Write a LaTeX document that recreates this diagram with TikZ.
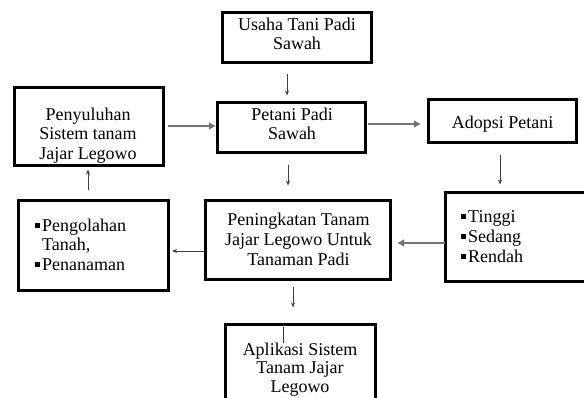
\documentclass[tikz,border=0pt]{standalone}
\usepackage{fontspec}
\setmainfont{Liberation Serif}
\usetikzlibrary{arrows.meta,calc}
\newcommand{\bul}{\raisebox{3.5pt}{\rule{5pt}{5pt}}\hspace{2pt}}
\newcommand{\fst}{\rule{0pt}{14pt}}
\begin{document}
\begin{tikzpicture}[x=1pt,y=-1pt,
  box/.style={draw=black,line width=3pt,inner sep=0pt,outer sep=0pt},
  thin/.style={draw=black!75,line width=0.9pt,-{Stealth[length=5pt,width=4pt]}},
  thick/.style={draw=black!55,line width=1.8pt,-{Latex[length=7pt,width=8pt]},color=black!55},
  ctxt/.style={inner sep=0pt,anchor=north,align=center,font=\fontsize{18}{19.5}\selectfont},
  ltxt/.style={inner sep=0pt,anchor=north west,align=left,font=\fontsize{18}{20}\selectfont}]
\useasboundingbox (0,0) rectangle (584,398);
\clip (0,0) rectangle (584,398);
% boxes
\node[box,minimum width=149pt,minimum height=50pt] (usaha) at (297,37.5) {};
\node[box,minimum width=148pt,minimum height=50pt] (petani) at (291.5,127.5) {};
\node[box,minimum width=149pt,minimum height=78pt] (peny) at (89,126.5) {};
\node[box,minimum width=148pt,minimum height=43pt] (adopsi) at (502.5,121) {};
\node[box,minimum width=160pt,minimum height=89pt] (tinggi) at (525.5,237) {};
\node[box,minimum width=185pt,minimum height=79pt] (pening) at (298,240) {};
\node[box,minimum width=150pt,minimum height=90pt] (pengol) at (93.5,245.5) {};
\node[box,minimum width=150pt,minimum height=100pt] (aplik) at (300.5,374.5) {};
% texts
\node[ctxt] (tusaha) at (297,16) {\fst Usaha Tani Padi\\Sawah};
\node[ctxt] (tpetani) at (292,106) {\fst Petani Padi\\Sawah};
\node[ctxt] (tpeny) at (88,106) {\fst Penyuluhan\\Sistem tanam\\Jajar Legowo};
\node[ctxt] (tadopsi) at (502.5,114) {\fst Adopsi Petani};
\node[ctxt,font=\fontsize{18}{20}\selectfont] (tpening) at (298.5,211) {\fst Peningkatan Tanam\\Jajar Legowo Untuk\\Tanaman Padi};
\node[ctxt,font=\fontsize{18}{18.5}\selectfont] (taplik) at (300,341) {\fst Aplikasi Sistem\\Tanam Jajar\\Legowo};
\node[ltxt] (tlist) at (461,208) {\fst\bul Tinggi\\\bul Sedang\\\bul Rendah};
\node[ltxt,font=\fontsize{18}{19.5}\selectfont] (plist) at (35,217) {\fst\bul Pengolahan\\\hspace{7pt}Tanah,\\\bul Penanaman};
% arrows
\draw[thin] ([shift={(-10,12)}]usaha.south) -- ([shift={(-4.5,-7)}]petani.north);
\draw[thin] ([shift={(-3.5,13)}]petani.south) -- ([shift={(-10,-15)}]pening.north);
\draw[thin] ([shift={(-5,8)}]pening.south) -- ([shift={(-7.5,-17)}]aplik.north);
\draw[thin] ([shift={(-5.5,-10)}]pengol.north) -- ([shift={(-1,4)}]peny.south);
\draw[thin] ([shift={(-1.5,11)}]pening.west) -- ([shift={(3.5,5.5)}]pengol.east);
\draw[thin] ([shift={(-2.5,13)}]adopsi.south) -- ([shift={(-25.5,-8)}]tinggi.north);
\draw[thick] ([shift={(4.5,-0.5)}]peny.east) -- ([shift={(-1.5,-1.5)}]petani.west);
\draw[thick] ([shift={(2,-3.5)}]petani.east) -- ([shift={(-7.5,3)}]adopsi.west);
\draw[thick] ([shift={(-0.5,6)}]tinggi.west) -- ([shift={(6.5,3)}]pening.east);
% stray mark
\coordinate (s1) at (283,327);
\draw[black!80,line width=0.8pt] (s1) -- ++(0,16) coordinate (s2);
\end{tikzpicture}
\end{document}
